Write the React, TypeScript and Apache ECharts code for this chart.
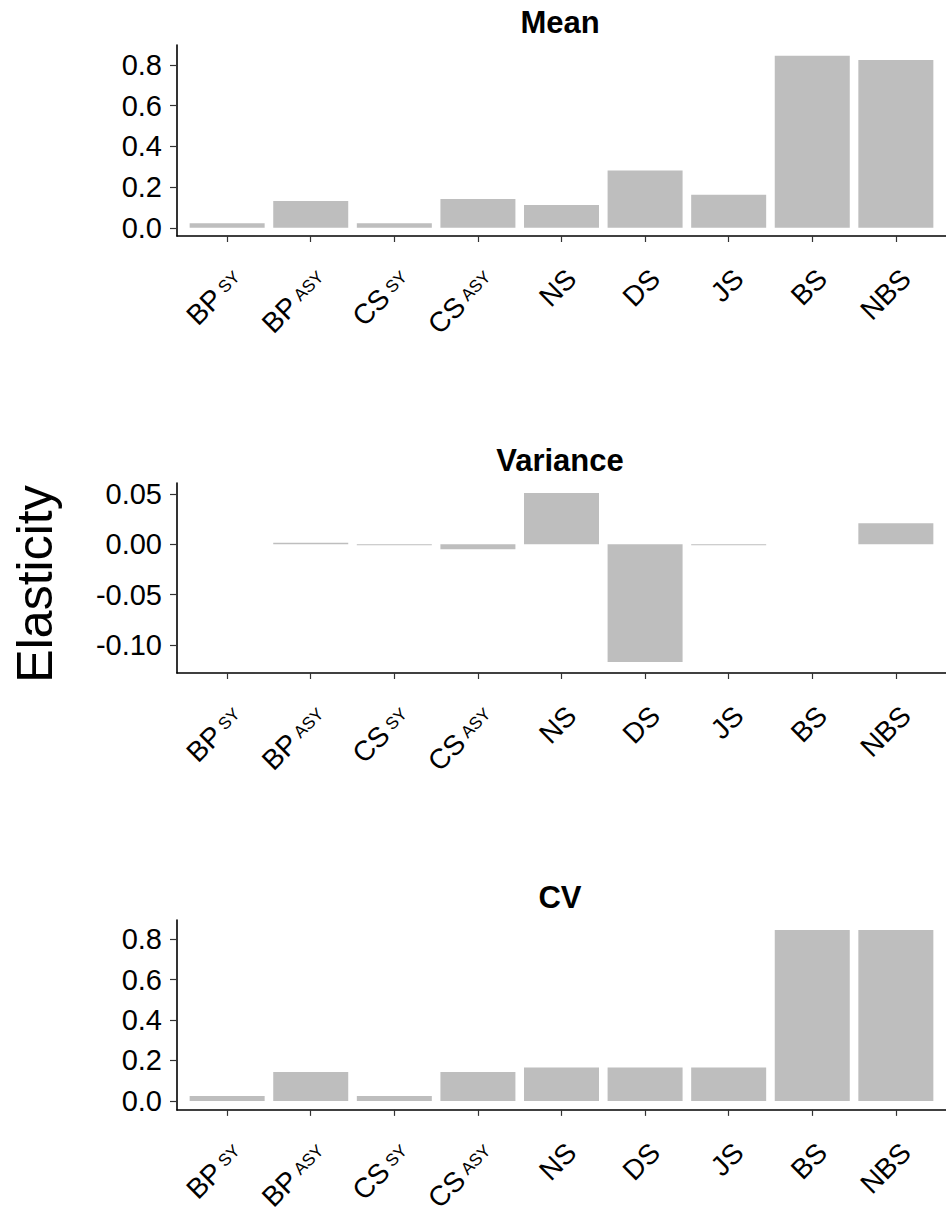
import React, { useEffect, useRef } from "react";
import * as echarts from "echarts";

// Categories: main label and its small subscript part
const categoryMain = ["BP", "BP", "CS", "CS", "NS", "DS", "JS", "BS", "NBS"];
const categorySub = ["SY", "ASY", "SY", "ASY", "", "", "", "", ""];

// Elasticity values per panel
const meanValues = [0.023, 0.132, 0.023, 0.142, 0.112, 0.282, 0.163, 0.845, 0.824];
const varianceValues = [0, 0.0015, -0.001, -0.005, 0.051, -0.117, -0.001, 0, 0.021];
const cvValues = [0.025, 0.143, 0.025, 0.143, 0.165, 0.165, 0.165, 0.845, 0.845];

// Tick labels per panel
const meanTicks = [0, 0.2, 0.4, 0.6, 0.8];
const varianceTicks = [-0.1, -0.05, 0, 0.05];
const cvTicks = [0, 0.2, 0.4, 0.6, 0.8];

const panelTitles = ["Mean", "Variance", "CV"];

const FONT = "'Liberation Sans', Arial, sans-serif";
const BAR_COLOR = "#bebebe";

export default function App() {
  const ref = useRef<HTMLDivElement>(null);

  useEffect(() => {
    if (!ref.current) return;
    const chart = echarts.init(ref.current, null, { renderer: "svg" });

    const panels = [
      { values: meanValues, ticks: meanTicks, min: -0.04, max: 0.898, digits: 1, top: 45, height: 191 },
      { values: varianceValues, ticks: varianceTicks, min: -0.128, max: 0.061, digits: 2, top: 483, height: 190 },
      { values: cvValues, ticks: cvTicks, min: -0.044, max: 0.894, digits: 1, top: 920, height: 190 },
    ];

    const positions = categoryMain.map((_, i) => i + 1);
    // rotated labels hang slightly right of their tick
    const labelPositions = positions.map((p) => p + 0.12);

    const labelText = (v: number) => {
      const i = Math.round(v) - 1;
      if (i < 0 || i >= categoryMain.length) return "";
      const sub = categorySub[i];
      return sub ? `{m|${categoryMain[i]}}{s|${sub}}` : `{m|${categoryMain[i]}}`;
    };

    const option: any = {
      animation: false,
      backgroundColor: "#ffffff",
      grid: panels.map((p) => ({ left: 177, width: 772, top: p.top, height: p.height })),
      xAxis: panels.map((_, k) => ({
        type: "value",
        gridIndex: k,
        min: 0.4,
        max: 9.6,
        splitLine: { show: false },
        axisLine: { show: true, onZero: false, lineStyle: { color: "#000", width: 1.6 } },
        axisTick: { show: true, customValues: positions, length: 6, lineStyle: { color: "#333", width: 1.2 } },
        axisLabel: {
          customValues: labelPositions,
          rotate: 45,
          margin: 38,
          formatter: labelText,
          rich: {
            m: { fontFamily: FONT, fontSize: 28, color: "#000" },
            s: { fontFamily: FONT, fontSize: 17, color: "#000", padding: [0, 0, 0, 5], verticalAlign: "middle" },
          },
        },
      })),
      yAxis: panels.map((p, k) => ({
        type: "value",
        gridIndex: k,
        min: p.min,
        max: p.max,
        splitLine: { show: false },
        axisLine: { show: true, onZero: false, lineStyle: { color: "#000", width: 1.6 } },
        axisTick: { show: true, customValues: p.ticks, length: 7, lineStyle: { color: "#333", width: 1.2 } },
        axisLabel: {
          customValues: p.ticks,
          margin: 15,
          fontFamily: FONT,
          fontSize: 29,
          color: "#000",
          formatter: (v: number) => v.toFixed(p.digits),
        },
      })),
      series: panels.map((p, k) => ({
        type: "bar",
        xAxisIndex: k,
        yAxisIndex: k,
        barWidth: 75,
        itemStyle: { color: BAR_COLOR },
        data: p.values.map((v, i) => [positions[i], v]),
      })),
      graphic: [
        ...panelTitles.map((t, k) => ({
          type: "text",
          x: 560,
          y: panels[k].top - 23,
          style: {
            text: t,
            fontFamily: FONT,
            fontSize: 31,
            fontWeight: "bold",
            fill: "#000",
            textAlign: "center",
            textVerticalAlign: "middle",
          },
        })),
        {
          type: "text",
          x: 35,
          y: 584,
          rotation: Math.PI / 2,
          style: {
            text: "Elasticity",
            fontFamily: FONT,
            fontSize: 50,
            fill: "#000",
            textAlign: "center",
            textVerticalAlign: "middle",
          },
        },
      ],
    };

    chart.setOption(option);
    return () => chart.dispose();
  }, []);

  return (
    <div
      ref={ref}
      style={{ position: "fixed", left: 0, top: 0, width: 946, height: 1215, background: "#fff" }}
    />
  );
}
